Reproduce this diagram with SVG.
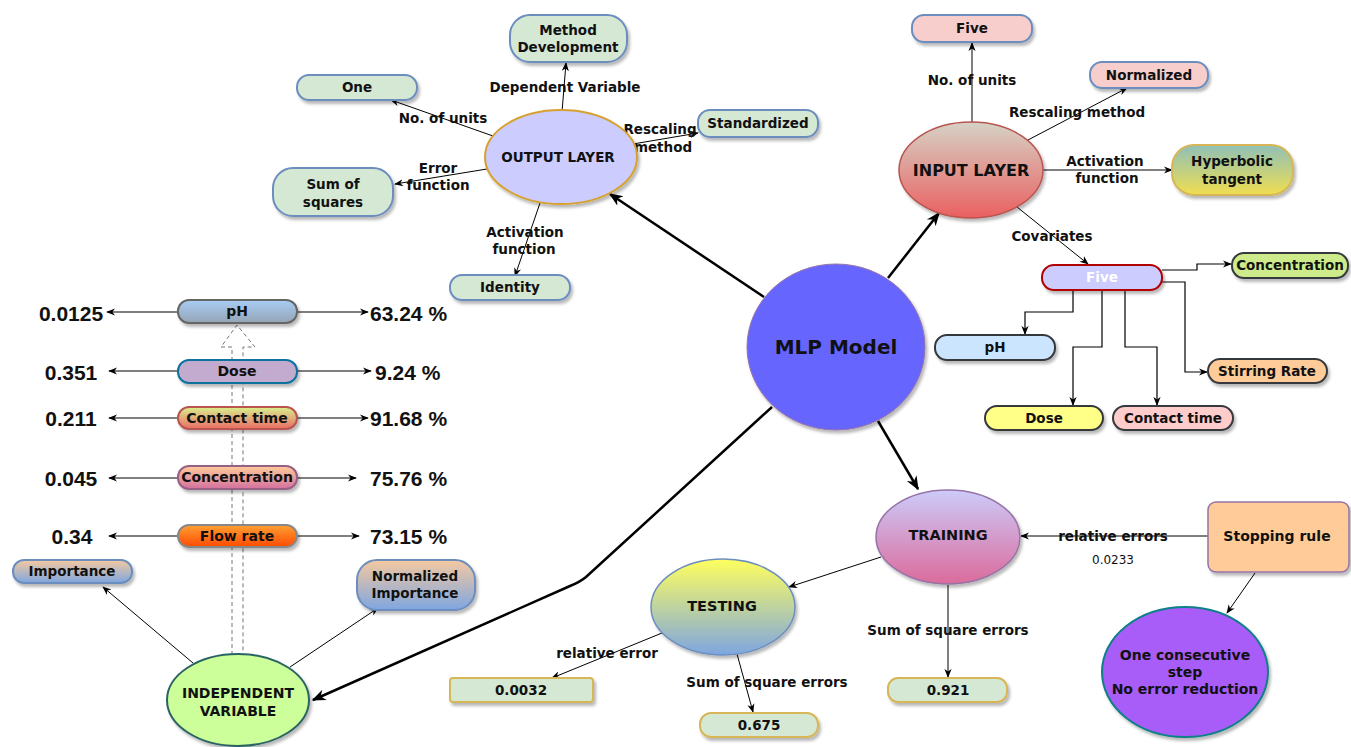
<svg xmlns="http://www.w3.org/2000/svg" width="1351" height="747" viewBox="0 0 1351 747">
<style>
.t{font-family:"DejaVu Sans",Verdana,sans-serif;font-weight:bold;font-size:13.5px;text-anchor:middle;dominant-baseline:central;fill:#111}
.lb{font-family:"DejaVu Sans",Verdana,sans-serif;font-weight:bold;font-size:13.5px;text-anchor:middle;dominant-baseline:central;fill:#111}
.v{font-family:"Liberation Sans",Arial,sans-serif;font-weight:bold;font-size:21px;dominant-baseline:central;fill:#111}
.e{fill:none;stroke:#000;stroke-width:1;marker-end:url(#a)}
.eb{fill:none;stroke:#000;stroke-width:2.5;marker-end:url(#ab)}
.o{fill:none;stroke:#000;stroke-width:1.2;marker-end:url(#a)}
.g{fill:#d5e8d4;stroke:#6c8ebf;stroke-width:2}
.pk{fill:#f8cecc;stroke:#6c8ebf;stroke-width:2}
.cv{stroke:#36393d;stroke-width:2}
.ll{font-size:14px}
</style>
<defs>
<marker id="a" viewBox="0 0 10 10" refX="9" refY="5" markerWidth="9" markerHeight="9" markerUnits="userSpaceOnUse" orient="auto"><path d="M0,1 L10,5 L0,9 L3,5 Z" fill="#000"/></marker>
<marker id="ab" viewBox="0 0 10 10" refX="9" refY="5" markerWidth="14" markerHeight="14" markerUnits="userSpaceOnUse" orient="auto"><path d="M0,1 L10,5 L0,9 L3,5 Z" fill="#000"/></marker>
<filter id="sh" x="-20%" y="-20%" width="150%" height="160%"><feDropShadow dx="2" dy="3" stdDeviation="1.5" flood-color="#000" flood-opacity="0.28"/></filter>
<linearGradient id="gIn" x1="0" y1="0" x2="0" y2="1"><stop offset="0" stop-color="#d6d2c6"/><stop offset="1" stop-color="#ea6060"/></linearGradient>
<linearGradient id="gHyp" x1="0" y1="0" x2="0" y2="1"><stop offset="0" stop-color="#8fc0b8"/><stop offset="1" stop-color="#f0de50"/></linearGradient>
<linearGradient id="gTr" x1="0" y1="0" x2="0" y2="1"><stop offset="0" stop-color="#cccbfa"/><stop offset="1" stop-color="#db6b9c"/></linearGradient>
<linearGradient id="gTe" x1="0" y1="0" x2="0" y2="1"><stop offset="0" stop-color="#ffff5e"/><stop offset="1" stop-color="#7ea6e0"/></linearGradient>
<linearGradient id="gImp" x1="0" y1="0" x2="0" y2="1"><stop offset="0" stop-color="#f5c9a0"/><stop offset="1" stop-color="#7ea6e0"/></linearGradient>
<linearGradient id="gPh" x1="0" y1="0" x2="0" y2="1"><stop offset="0" stop-color="#a8cdf6"/><stop offset="1" stop-color="#95a4b4"/></linearGradient>
<linearGradient id="gCt" x1="0" y1="0" x2="0" y2="1"><stop offset="0" stop-color="#d9f08c"/><stop offset="1" stop-color="#ea6b66"/></linearGradient>
<linearGradient id="gCo" x1="0" y1="0" x2="0" y2="1"><stop offset="0" stop-color="#ffcc99"/><stop offset="1" stop-color="#d4709e"/></linearGradient>
<linearGradient id="gFl" x1="0" y1="0" x2="0" y2="1"><stop offset="0" stop-color="#ffa033"/><stop offset="1" stop-color="#ff4a00"/></linearGradient>
</defs>
<rect width="1351" height="747" fill="#fff"/>

<g id="connectors">
<path d="M232,655 L232,347 L221,347 L237,325 L255,347 L243,347 L243,655" fill="none" stroke="#777" stroke-width="1" stroke-dasharray="4,3"/>
<line class="eb" x1="764" y1="297" x2="610" y2="194"/>
<line class="eb" x1="888" y1="278" x2="939" y2="213"/>
<line class="eb" x1="878" y1="421" x2="918" y2="489"/>
<path class="eb" d="M772,407 L586,577 Q580,582 570,586 L313,700"/>
<line class="e" x1="493" y1="136" x2="391" y2="100"/>
<line class="e" x1="562" y1="112" x2="566" y2="63"/>
<line class="e" x1="627" y1="145" x2="698" y2="133"/>
<line class="e" x1="487" y1="169" x2="395" y2="184"/>
<line class="e" x1="540" y1="203" x2="515" y2="276"/>
<line class="e" x1="972" y1="122" x2="972" y2="43"/>
<line class="e" x1="1028" y1="140" x2="1127" y2="88"/>
<line class="e" x1="1043" y1="170" x2="1172" y2="170"/>
<line class="e" x1="1017" y1="207" x2="1088" y2="264"/>
<path class="o" d="M1162,270 L1197,270 L1197,264 L1231,264"/>
<path class="o" d="M1162,282 L1185,282 L1185,372 L1207,372"/>
<path class="o" d="M1073,290 L1073,312 L1025,312 L1025,334"/>
<path class="o" d="M1102,290 L1102,347 L1073,347 L1073,405"/>
<path class="o" d="M1125,290 L1125,347 L1157,347 L1157,405"/>
<line class="e" x1="1208" y1="536" x2="1021" y2="536"/>
<line class="e" x1="948" y1="585" x2="948" y2="677"/>
<line class="e" x1="1255" y1="573" x2="1227" y2="613"/>
<line class="e" x1="881" y1="557" x2="789" y2="587"/>
<line class="e" x1="662" y1="633" x2="552" y2="678"/>
<line class="e" x1="737" y1="654" x2="753" y2="712"/>
<line class="e" x1="193" y1="663" x2="103" y2="587"/>
<line class="e" x1="290" y1="667" x2="378" y2="608"/>
<line class="o" x1="178" y1="312" x2="107" y2="312"/>
<line class="o" x1="297" y1="312" x2="368" y2="312"/>
<line class="o" x1="178" y1="371" x2="109" y2="371"/>
<line class="o" x1="297" y1="371" x2="371" y2="371"/>
<line class="o" x1="178" y1="418" x2="109" y2="418"/>
<line class="o" x1="297" y1="418" x2="368" y2="418"/>
<line class="o" x1="178" y1="478" x2="109" y2="478"/>
<line class="o" x1="297" y1="478" x2="356" y2="478"/>
<line class="o" x1="178" y1="536" x2="109" y2="536"/>
<line class="o" x1="297" y1="536" x2="359" y2="536"/>
<text class="lb" x="443" y="118">No. of units</text>
<text class="lb" x="565" y="87">Dependent Variable</text>
<text class="lb" x="660" y="129">Rescaling</text>
<text class="lb" x="663" y="147">method</text>
<text class="lb" x="438" y="168">Error</text>
<text class="lb" x="438" y="185">function</text>
<text class="lb" x="525" y="232">Activation</text>
<text class="lb" x="524" y="249">function</text>
<text class="lb" x="972" y="80">No. of units</text>
<text class="lb" x="1077" y="112">Rescaling method</text>
<text class="lb" x="1105" y="161">Activation</text>
<text class="lb" x="1107" y="178">function</text>
<text class="lb" x="1052" y="236">Covariates</text>
<text class="lb" x="1113" y="536">relative errors</text>
<text class="lb" x="1113" y="560" style="font-weight:normal;font-size:12px">0.0233</text>
<text class="lb" x="948" y="630">Sum of square errors</text>
<text class="lb" x="607" y="653">relative error</text>
<text class="lb" x="767" y="682">Sum of square errors</text>
<text class="v" x="71" y="313" text-anchor="middle">0.0125</text>
<text class="v" x="71" y="372" text-anchor="middle">0.351</text>
<text class="v" x="71" y="418" text-anchor="middle">0.211</text>
<text class="v" x="71" y="478" text-anchor="middle">0.045</text>
<text class="v" x="72" y="536" text-anchor="middle">0.34</text>
<text class="v" x="370" y="313">63.24 %</text>
<text class="v" x="375" y="372">9.24 %</text>
<text class="v" x="370" y="418">91.68 %</text>
<text class="v" x="370" y="478">75.76 %</text>
<text class="v" x="370" y="536">73.15 %</text>
</g>

<g id="mlp"><ellipse cx="836" cy="347" rx="89" ry="83" fill="#6666ff" stroke="#9673a6" stroke-width="1" filter="url(#sh)"/><text class="t" x="836" y="347" style="font-size:20px">MLP Model</text></g>

<g id="output-layer"><ellipse cx="561" cy="157" rx="76" ry="47" fill="#ccccff" stroke="#d6a12d" stroke-width="2" filter="url(#sh)"/><text class="t" x="558" y="157" style="font-size:13.5px">OUTPUT LAYER</text></g>
<g id="method-development"><rect class="g" x="510" y="15" width="117" height="47" rx="20" filter="url(#sh)"/><text class="t" x="568" y="30">Method</text><text class="t" x="568" y="47">Development</text></g>
<g id="one"><rect class="g" x="297" y="75" width="120" height="25" rx="12" filter="url(#sh)"/><text class="t" x="357" y="87">One</text></g>
<g id="standardized"><rect class="g" x="698" y="110" width="120" height="27" rx="12" filter="url(#sh)"/><text class="t" x="758" y="123">Standardized</text></g>
<g id="sum-of-squares"><rect class="g" x="273" y="168" width="120" height="48" rx="20" filter="url(#sh)"/><text class="t" x="333" y="184">Sum of</text><text class="t" x="333" y="202">squares</text></g>
<g id="identity"><rect class="g" x="450" y="275" width="120" height="25" rx="12" filter="url(#sh)"/><text class="t" x="510" y="287">Identity</text></g>

<g id="input-layer"><ellipse cx="971" cy="170" rx="72" ry="48" fill="url(#gIn)" stroke="#b85450" stroke-width="1.5" filter="url(#sh)"/><text class="t" x="971" y="170" style="font-size:16px">INPUT LAYER</text></g>
<g id="five-units"><rect class="pk" x="912" y="15" width="120" height="27" rx="12" filter="url(#sh)"/><text class="t" x="972" y="28">Five</text></g>
<g id="normalized"><rect class="pk" x="1090" y="62" width="118" height="26" rx="12" filter="url(#sh)"/><text class="t" x="1149" y="75">Normalized</text></g>
<g id="hyperbolic-tangent"><rect x="1172" y="145" width="121" height="50" rx="22" fill="url(#gHyp)" stroke="#d6b656" stroke-width="2" filter="url(#sh)"/><text class="t" x="1232" y="161">Hyperbolic</text><text class="t" x="1232" y="179">tangent</text></g>

<g id="five-covariates"><rect x="1042" y="265" width="120" height="25" rx="12" fill="#ccccff" stroke="#b20000" stroke-width="2" filter="url(#sh)"/><text class="t" x="1102" y="277" style="fill:#fff">Five</text></g>
<g id="cov-concentration"><rect class="cv" x="1232" y="253" width="116" height="25" rx="12" fill="#cdeb8b" filter="url(#sh)"/><text class="t" x="1290" y="265">Concentration</text></g>
<g id="cov-ph"><rect class="cv" x="935" y="335" width="120" height="25" rx="12" fill="#cce5ff" filter="url(#sh)"/><text class="t" x="995" y="347">pH</text></g>
<g id="cov-stirring"><rect class="cv" x="1208" y="359" width="119" height="24" rx="12" fill="#ffcc99" filter="url(#sh)"/><text class="t" x="1267" y="371">Stirring Rate</text></g>
<g id="cov-dose"><rect class="cv" x="985" y="406" width="118" height="24" rx="12" fill="#ffff88" filter="url(#sh)"/><text class="t" x="1044" y="418">Dose</text></g>
<g id="cov-contact"><rect class="cv" x="1113" y="406" width="120" height="24" rx="12" fill="#ffcccc" filter="url(#sh)"/><text class="t" x="1173" y="418">Contact time</text></g>

<g id="training"><ellipse cx="948" cy="537" rx="72" ry="47" fill="url(#gTr)" stroke="#9673a6" stroke-width="1.5" filter="url(#sh)"/><text class="t" x="948" y="535" style="font-size:14.5px">TRAINING</text></g>
<g id="stopping-rule"><rect x="1208" y="502" width="141" height="70" rx="8" fill="#ffcc99" stroke="#9673a6" stroke-width="1.5" filter="url(#sh)"/><text class="t" x="1277" y="536" style="font-size:14px">Stopping rule</text></g>
<g id="one-consecutive"><ellipse cx="1185" cy="672" rx="83" ry="65" fill="#a85cf8" stroke="#0e8088" stroke-width="2" filter="url(#sh)"/><text class="t" x="1185" y="655" style="font-size:14px">One consecutive</text><text class="t" x="1185" y="672" style="font-size:14px">step</text><text class="t" x="1185" y="689" style="font-size:14px">No error reduction</text></g>
<g id="v0921"><rect x="888" y="678" width="119" height="24" rx="10" fill="#d5e8d4" stroke="#d6b656" stroke-width="2" filter="url(#sh)"/><text class="t" x="948" y="690">0.921</text></g>
<g id="testing"><ellipse cx="723" cy="607" rx="72" ry="48" fill="url(#gTe)" stroke="#6c8ebf" stroke-width="1.5" filter="url(#sh)"/><text class="t" x="722" y="606" style="font-size:14.5px">TESTING</text></g>
<g id="v0032"><rect x="450" y="678" width="143" height="24" rx="3" fill="#d5e8d4" stroke="#d6b656" stroke-width="2" filter="url(#sh)"/><text class="t" x="521" y="690">0.0032</text></g>
<g id="v0675"><rect x="700" y="713" width="118" height="24" rx="11" fill="#d5e8d4" stroke="#d6b656" stroke-width="2" filter="url(#sh)"/><text class="t" x="759" y="725">0.675</text></g>

<g id="independent-variable"><ellipse cx="238" cy="700" rx="71" ry="46" fill="#ccff99" stroke="#2b6464" stroke-width="2" filter="url(#sh)"/><text class="t" x="238" y="693" style="font-size:14px">INDEPENDENT</text><text class="t" x="238" y="711" style="font-size:14px">VARIABLE</text></g>
<g id="importance"><rect x="13" y="560" width="119" height="23" rx="11" fill="url(#gImp)" stroke="#6c8ebf" stroke-width="2" filter="url(#sh)"/><text class="t" x="72" y="571">Importance</text></g>
<g id="normalized-importance"><rect x="357" y="560" width="118" height="50" rx="20" fill="url(#gImp)" stroke="#6c8ebf" stroke-width="2" filter="url(#sh)"/><text class="t" x="415" y="576">Normalized</text><text class="t" x="415" y="593">Importance</text></g>

<g id="list-ph"><rect x="178" y="300" width="119" height="23" rx="11" fill="url(#gPh)" stroke="#666" stroke-width="2" filter="url(#sh)"/><text class="t ll" x="237" y="311">pH</text></g>
<g id="list-dose"><rect x="178" y="360" width="119" height="23" rx="11" fill="#c3abd0" stroke="#10739e" stroke-width="2" filter="url(#sh)"/><text class="t ll" x="237" y="371">Dose</text></g>
<g id="list-contact"><rect x="178" y="407" width="119" height="22" rx="11" fill="url(#gCt)" stroke="#b85450" stroke-width="2" filter="url(#sh)"/><text class="t ll" x="237" y="418">Contact time</text></g>
<g id="list-concentration"><rect x="178" y="466" width="119" height="23" rx="11" fill="url(#gCo)" stroke="#996185" stroke-width="2" filter="url(#sh)"/><text class="t ll" x="237" y="477">Concentration</text></g>
<g id="list-flow"><rect x="178" y="525" width="119" height="22" rx="11" fill="url(#gFl)" stroke="#888" stroke-width="2" filter="url(#sh)"/><text class="t ll" x="237" y="536">Flow rate</text></g>
</svg>
